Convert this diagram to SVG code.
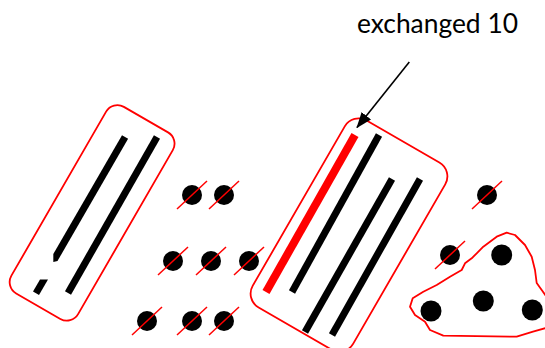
<svg xmlns="http://www.w3.org/2000/svg" xmlns:xlink="http://www.w3.org/1999/xlink" width="545" height="348" viewBox="0 0 545 348">
<style>
.box{fill:none;stroke:#ff0000;stroke-width:1.8}
.bar{stroke:#000;stroke-width:7;stroke-linecap:butt}
.rbar{stroke:#ff0000;stroke-width:8;stroke-linecap:butt}
.dot{fill:#000}
.slash{stroke:#ff0000;stroke-width:1.5}
.lbl{font-family:Lato,"Open Sans","Liberation Sans",sans-serif;font-size:26px;fill:#000}
</style>
<defs>
<g id="xdot"><circle class="dot" cx="0" cy="0" r="10"/><line class="slash" x1="-15" y1="14" x2="15" y2="-14"/></g>
<marker id="ah" markerWidth="16" markerHeight="12" refX="15" refY="6" orient="auto" markerUnits="userSpaceOnUse"><path d="M0,0 L16,6 L0,12 Z" fill="#000"/></marker>
</defs>
<rect width="545" height="348" fill="#fff"/>
<g id="group-left">
<rect class="box" x="-38.5" y="-107.7" width="77" height="215.4" rx="13" transform="translate(92.1,212.9) rotate(30)"/>
<polygon points="122,135.3 128.1,138.8 57.5,261 53.3,262 53.3,254" fill="#000"/>
<polygon points="40,279.5 48,279.5 39,295 33,291.6" fill="#000"/>
<line class="bar" x1="157" y1="137" x2="68" y2="293"/>
</g>
<g id="group-right">
<rect class="box" x="-58" y="-108" width="116" height="216" rx="16" transform="translate(349,235) rotate(30)"/>
<line class="rbar" x1="355" y1="135" x2="266" y2="292"/>
<line class="bar" x1="379" y1="135" x2="292" y2="292"/>
<line class="bar" x1="392" y1="179" x2="305" y2="332"/>
<line class="bar" x1="420" y1="179" x2="332" y2="335"/>
</g>
<g id="dots-middle">
<use xlink:href="#xdot" x="192" y="195"/>
<use xlink:href="#xdot" x="224" y="195"/>
<use xlink:href="#xdot" x="173" y="261"/>
<use xlink:href="#xdot" x="211" y="261"/>
<use xlink:href="#xdot" x="249" y="261"/>
<use xlink:href="#xdot" x="147" y="321"/>
<use xlink:href="#xdot" x="192" y="321"/>
<use xlink:href="#xdot" x="224" y="321"/>
</g>
<g id="dots-right">
<use xlink:href="#xdot" x="487" y="195"/>
<use xlink:href="#xdot" x="450" y="255"/>
</g>
<g id="blob">
<path class="box" d="M506.7,232.7 L515,235 L525,245 L531.7,256.7 L535,270 L536.7,283 L541.7,290 L546,296 L546,328 L533,331.7 L516.7,336.7 L443.3,335.7 L430,330 L425,321.7 L415,315 L410,306.7 L412.7,298.3 L423.3,291.7 L436.7,285 L450,276.7 L461.7,270 L465,263.3 L471.7,258.3 L476.7,253.3 L483.3,246.7 L490,241.7 L496.7,236.7 Z" stroke-linejoin="round"/>
<circle class="dot" cx="501.7" cy="255" r="10.5"/>
<circle class="dot" cx="431" cy="311" r="10.5"/>
<circle class="dot" cx="483.3" cy="301" r="10.5"/>
<circle class="dot" cx="532.3" cy="310" r="10.5"/>
</g>
<g id="label">
<text class="lbl" x="357" y="33.3" textLength="161" lengthAdjust="spacingAndGlyphs">exchanged 10</text>
</g>
<g id="connectors">
<line x1="409.3" y1="62" x2="357" y2="127.5" stroke="#000" stroke-width="1.6" marker-end="url(#ah)"/>
</g>
</svg>
